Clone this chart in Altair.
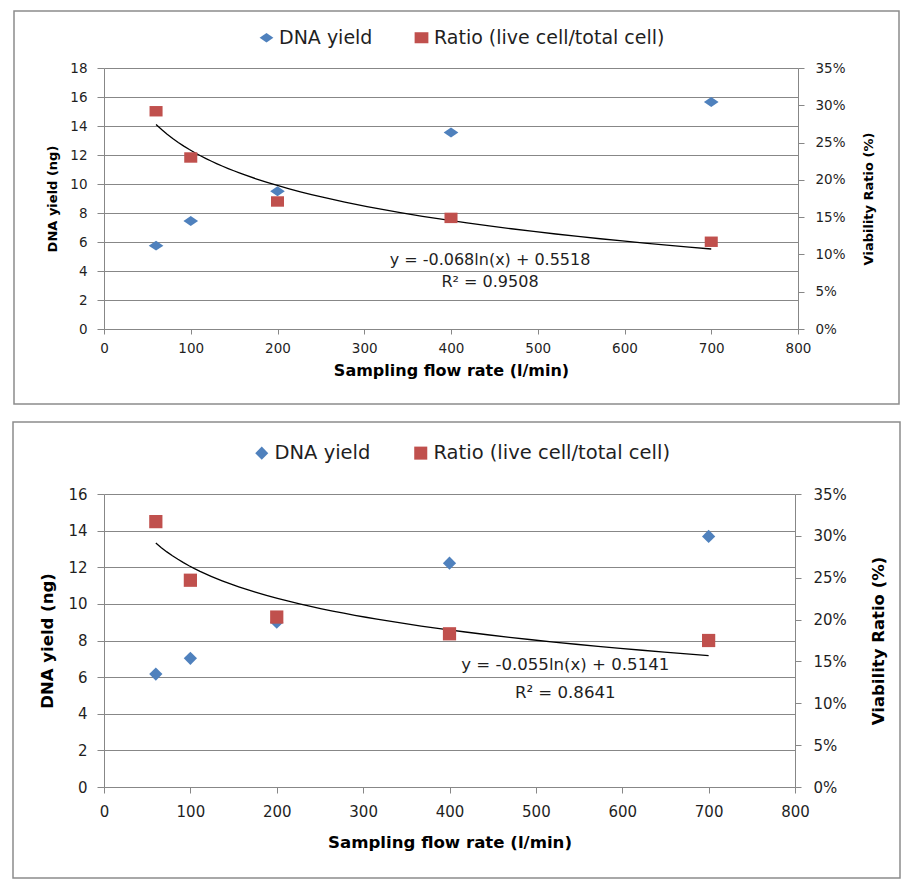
import altair as alt
import pandas as pd

# ---- data ----
flow = [60, 100, 200, 400, 700]
dna_top = [5.75, 7.45, 9.5, 13.55, 15.65]
ratio_top = [0.292, 0.230, 0.171, 0.149, 0.117]
dna_bottom = [6.17, 7.03, 9.0, 12.22, 13.68]
ratio_bottom = [0.317, 0.247, 0.203, 0.183, 0.175]

series_names = ["DNA yield", "Ratio (live cell/total cell)"]
x_ticks = [0, 100, 200, 300, 400, 500, 600, 700, 800]
y_ticks_top = [0, 2, 4, 6, 8, 10, 12, 14, 16, 18]
y_ticks_bottom = [0, 2, 4, 6, 8, 10, 12, 14, 16]
ratio_ticks = [0, 0.05, 0.10, 0.15, 0.20, 0.25, 0.30, 0.35]
eq_top = ["y = -0.068ln(x) + 0.5518", "R² = 0.9508"]
eq_bottom = ["y = -0.055ln(x) + 0.5141", "R² = 0.8641"]
x_title = "Sampling flow rate (l/min)"
y_title = "DNA yield (ng)"
y2_title = "Viability Ratio (%)"

FONT = "DejaVu Sans"
BLUE = "#4F81BD"
RED = "#C0504D"
GRID = "#878787"
BOX = "#8c8c8c"
TXT = "#1f1f1f"

WIDE_DIAMOND = "M-1,0L0,-0.68L1,0L0,0.68Z"
WIDE_SQUARE = "M-1,-0.8H1V0.8H-1Z"


def panel(dna, ratio, y_ticks, ymax, w, h, s):
    df_dna = pd.DataFrame({"x": flow, "dna": dna, "series": series_names[0]})
    df_ratio = pd.DataFrame({"x": flow, "ratio": ratio, "series": series_names[1]})

    xscale = alt.Scale(domain=[0, 800], nice=False)
    yscale = alt.Scale(domain=[0, ymax], nice=False)
    rscale = alt.Scale(domain=[0, 0.35], nice=False)

    xaxis = alt.Axis(values=x_ticks, title=x_title, grid=False, domainColor=GRID,
                     tickColor=GRID, tickSize=s["xtick"], labelPadding=s["xpad"],
                     labelFont=FONT, labelFontSize=s["tick"], labelColor=TXT,
                     labelFlush=False, labelOverlap=False,
                     titleFont=FONT, titleFontWeight="bold", titleFontSize=s["xtitle"],
                     titleColor="black", titleY=s["xtitleY"], titleBaseline="middle")
    yaxis = alt.Axis(values=y_ticks, title=y_title, grid=True, gridColor=GRID,
                     domainColor=GRID, tickColor=GRID, tickSize=7, labelPadding=10,
                     labelFont=FONT, labelFontSize=s["tick"], labelColor=TXT,
                     labelFlush=False, labelOverlap=False,
                     titleFont=FONT, titleFontWeight="bold", titleFontSize=s["ytitle"],
                     titleColor="black", titleX=s["ytitleX"], titleY=h / 2,
                     titleAngle=270, titleAlign="center", titleBaseline="middle")
    raxis = alt.Axis(orient="right", values=ratio_ticks, format=".0%", title=y2_title,
                     grid=False, domainColor=GRID, tickColor=GRID, tickSize=6,
                     labelPadding=s["rpad"], labelFont=FONT, labelFontSize=s["tick"],
                     labelColor=TXT, labelFlush=False, labelOverlap=False,
                     titleFont=FONT, titleFontWeight="bold", titleFontSize=s["ytitle"],
                     titleColor="black", titleX=s["rtitleX"], titleY=h / 2,
                     titleAngle=270, titleAlign="center", titleBaseline="middle")

    legend = alt.Legend(orient="none", legendX=s["legX"], legendY=s["legY"],
                        direction="horizontal", title=None, labelFont=FONT,
                        labelFontSize=s["legend"], labelColor=TXT, labelLimit=0,
                        symbolSize=s["symsize"], symbolStrokeWidth=0, symbolOpacity=1,
                        columnPadding=s["colpad"], labelOffset=3, padding=0)
    color = alt.Color("series:N", scale=alt.Scale(domain=series_names, range=[BLUE, RED]),
                      legend=legend)
    shape = alt.Shape("series:N", scale=alt.Scale(domain=series_names,
                                                  range=s["shapes"]),
                      legend=legend)

    box = alt.Chart(alt.Data(values=[{}])).mark_rect(
        fillOpacity=0, stroke=BOX, strokeWidth=1.5).encode(
        x=alt.value(s["box"][0]), x2=alt.value(s["box"][1]),
        y=alt.value(s["box"][2]), y2=alt.value(s["box"][3]))

    dna_pts = alt.Chart(df_dna).mark_point(filled=True, opacity=1,
                                           size=s["dsize"]).encode(
        x=alt.X("x:Q", scale=xscale, axis=xaxis),
        y=alt.Y("dna:Q", scale=yscale, axis=yaxis),
        color=color, shape=shape)

    def eq_layer(text, xd, yd):
        return alt.Chart(alt.Data(values=[{}])).mark_text(
            font=FONT, fontSize=s["eq"], color=TXT, align="center",
            baseline="middle").encode(
            x=alt.XDatum(xd, type="quantitative", scale=xscale, axis=xaxis),
            y=alt.YDatum(yd, type="quantitative", scale=yscale, axis=yaxis),
            text=alt.value(text))

    eq1 = eq_layer(s["eqtext"][0], s["eqx"], s["eqy"][0])
    eq2 = eq_layer(s["eqtext"][1], s["eqx"], s["eqy"][1])

    ratio_pts = alt.Chart(df_ratio).mark_point(filled=True, opacity=1,
                                               size=s["ssize"]).encode(
        x=alt.X("x:Q", scale=xscale, axis=xaxis),
        y=alt.Y("ratio:Q", scale=rscale, axis=raxis),
        color=color, shape=shape)

    trend = alt.Chart(df_ratio).transform_regression(
        "x", "ratio", method="log", extent=[60, 700]).mark_line(
        color="black", strokeWidth=1.3).encode(
        x=alt.X("x:Q", scale=xscale, axis=xaxis),
        y=alt.Y("ratio:Q", scale=rscale, axis=raxis))

    left = alt.layer(box, dna_pts, eq1, eq2)
    right = alt.layer(trend, ratio_pts)
    return alt.layer(left, right).resolve_scale(y="independent").properties(
        width=w, height=h)


top = panel(dna_top, ratio_top, y_ticks_top, 18, 694, 261, dict(
    tick=13.5, xtick=5, xpad=7, rpad=11, xtitle=16, xtitleY=41,
    ytitle=13, ytitleX=-52, rtitleX=70,
    legX=153, legY=-40, legend=19, symsize=190, colpad=39,
    shapes=[WIDE_DIAMOND, WIDE_SQUARE],
    box=(-90, 795, -57, 336), dsize=215, ssize=170,
    eq=16, eqtext=eq_top, eqx=445, eqy=(4.76, 3.24)))

bottom = panel(dna_bottom, ratio_bottom, y_ticks_bottom, 16, 691, 293, dict(
    tick=15, xtick=6, xpad=11, rpad=12, xtitle=16.6, xtitleY=55,
    ytitle=16.5, ytitleX=-57, rtitleX=83,
    legX=148, legY=-51, legend=19.5, symsize=170, colpad=40,
    shapes=["diamond", "square"],
    box=(-91, 796, -72, 384), dsize=175, ssize=175,
    eq=16.6, eqtext=eq_bottom, eqx=534, eqy=(6.67, 5.14)))

chart = alt.vconcat(top, bottom, spacing=14).resolve_scale(
    color="independent", shape="independent").resolve_legend(
    color="independent", shape="independent").properties(
    padding={"left": 11, "top": 9, "right": 5, "bottom": 2},
    background="white").configure_view(stroke="transparent")

chart.save("out.html", embed_options={"renderer": "svg", "actions": False})
